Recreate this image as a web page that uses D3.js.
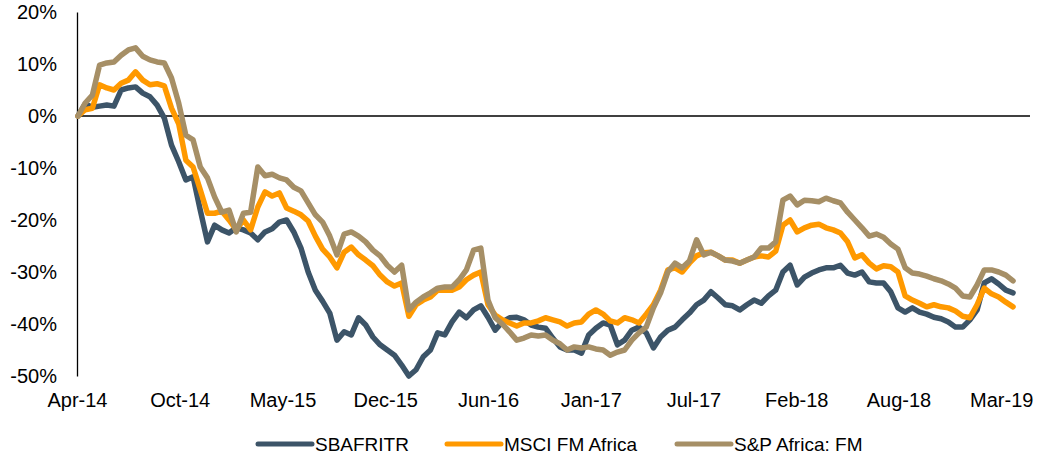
<!DOCTYPE html>
<html>
<head>
    <meta charset="UTF-8">
    <title></title>
    <style>
        body { margin: 0; background: #fff; font-family: 'Liberation Sans', Arial, Helvetica, sans-serif; }
        .axis text { font-size: 20px; fill: #000; }
        .legend text { font-size: 19px; fill: #000; }
        .series { fill: none; stroke-width: 5.5; stroke-linejoin: round; stroke-linecap: round; }
    </style>
</head>
<body>
    <script src="https://d3js.org/d3.v7.min.js"></script>
    <script>
        /// data (% change since start, one value every two weeks from 14 Apr 2014)
        var startDate = new Date(2014, 3, 14);
        var endDate = new Date(2019, 4, 11);

        var sbafritr = [0, 2.3, 1.7, 1.9, 2.1, 1.9, 5.0, 5.4, 5.6, 4.4, 3.7, 2.1, -0.4, -5.6, -8.8, -12.3, -11.7, -18.1, -24.2, -21.0,
            -21.9, -22.5, -21.5, -21.9, -22.5, -23.8, -22.3, -21.7, -20.4, -20.0, -22.3, -25.4, -30.0, -33.5, -35.6, -37.9, -43.1, -41.5, -42.1, -38.8,
            -40.2, -42.5, -44.0, -45.0, -46.0, -47.9, -50.0, -48.8, -46.3, -45.0, -41.7, -42.1, -39.6, -37.7, -38.8, -37.3, -36.5, -38.7, -41.2, -39.6,
            -38.8, -38.7, -39.2, -40.2, -40.6, -40.8, -42.7, -44.4, -45.0, -45.0, -45.6, -42.1, -40.8, -39.8, -40.2, -44.0, -43.1, -41.2, -40.6, -41.7,
            -44.6, -42.5, -41.2, -40.6, -39.2, -37.9, -36.3, -35.4, -33.8, -35.0, -36.3, -36.5, -37.3, -36.3, -35.4, -36.0, -34.6, -33.5, -30.0, -28.7,
            -32.5, -31.0, -30.2, -29.6, -29.2, -29.2, -28.7, -30.2, -30.6, -30.0, -31.9, -32.1, -32.1, -33.8, -36.9, -37.7, -36.9, -37.7, -38.1, -38.7,
            -39.0, -39.6, -40.6, -40.6, -39.2, -37.3, -32.1, -31.3, -32.3, -33.5, -34.0];

        var msciFmAfrica = [0, 1.2, 1.5, 6.0, 5.4, 5.0, 6.3, 6.9, 8.5, 6.9, 6.0, 6.2, 5.8, 1.5, -1.5, -8.5, -9.8, -14.2, -18.7, -18.7,
            -18.3, -20.0, -21.9, -20.0, -21.9, -17.5, -14.6, -15.4, -14.8, -17.7, -18.3, -19.0, -20.2, -23.1, -25.6, -27.1, -29.2, -26.2, -25.2, -26.7,
            -27.7, -28.8, -30.6, -31.9, -32.7, -32.1, -38.5, -36.3, -35.4, -34.8, -33.5, -33.5, -33.5, -32.9, -31.5, -30.6, -30.0, -36.3, -38.3, -39.2,
            -39.8, -40.4, -39.8, -39.8, -39.4, -38.8, -39.2, -39.6, -40.4, -39.8, -39.6, -38.1, -37.3, -38.1, -39.4, -39.8, -38.8, -39.2, -39.8, -38.1,
            -36.3, -33.5, -29.6, -29.2, -30.0, -28.3, -26.9, -26.3, -26.2, -26.9, -27.7, -27.7, -28.3, -27.7, -27.1, -26.9, -27.1, -26.0, -21.0, -20.0,
            -22.3, -21.5, -21.0, -20.8, -21.5, -21.9, -22.5, -24.2, -27.3, -26.7, -28.3, -29.4, -28.8, -29.0, -30.0, -34.6, -35.4, -36.0, -36.7, -36.3,
            -36.7, -36.9, -37.5, -38.5, -38.8, -36.3, -33.1, -34.2, -34.8, -35.8, -36.7];

        var spAfricaFm = [0, 2.5, 4.0, 9.8, 10.2, 10.4, 11.7, 12.7, 13.1, 11.5, 10.8, 10.4, 10.2, 7.3, 2.5, -3.7, -4.6, -9.8, -11.9, -15.6,
            -18.5, -18.1, -22.3, -18.7, -18.5, -9.8, -11.5, -11.2, -11.9, -12.3, -13.7, -14.4, -16.7, -19.0, -20.4, -23.1, -26.7, -22.7, -22.3, -23.1,
            -24.2, -25.8, -26.9, -28.7, -30.0, -28.7, -37.3, -35.8, -34.8, -34.0, -33.1, -32.9, -32.9, -31.5, -29.6, -25.8, -25.4, -35.4, -38.8, -40.0,
            -41.5, -43.1, -42.7, -42.1, -42.3, -42.1, -43.1, -43.8, -45.0, -44.4, -44.6, -44.4, -44.8, -45.0, -46.0, -45.4, -45.0, -43.1, -41.7, -40.6,
            -36.9, -34.0, -30.0, -28.3, -29.2, -27.9, -23.8, -26.7, -26.2, -26.9, -27.7, -27.9, -28.3, -27.7, -27.1, -25.4, -25.4, -24.2, -16.2, -15.4,
            -17.1, -16.2, -16.3, -16.5, -15.8, -16.3, -16.7, -18.5, -20.0, -21.5, -23.1, -22.7, -23.3, -24.6, -25.6, -29.2, -30.2, -30.4, -30.8, -31.3,
            -31.7, -32.3, -33.1, -34.6, -34.8, -32.5, -29.6, -29.6, -30.0, -30.6, -31.7];

        var seriesNames = ["SBAFRITR", "MSCI FM Africa", "S&P Africa: FM"];
        var seriesColors = ["#3c5468", "#ff9900", "#a68f66"];

        var yTicks = [20, 10, 0, -10, -20, -30, -40, -50];
        var xTickDates = ["2014-04-12", "2014-10-29", "2015-05-17", "2015-12-03", "2016-06-20",
            "2017-01-06", "2017-07-25", "2018-02-10", "2018-08-28", "2019-03-16"];

        /// layout
        var width = 1037, height = 456;
        var plot = { left: 77, right: 1030, top: 12, bottom: 376 };

        var svg = d3.select("body").append("svg")
            .attr("width", width)
            .attr("height", height);

        var dates = sbafritr.map(function(d, i) { return d3.timeDay.offset(startDate, 14 * i); });
        var parseDate = d3.timeParse("%Y-%m-%d");

        var x = d3.scaleTime().domain([startDate, endDate]).range([plot.left + 1, plot.right]);
        var y = d3.scaleLinear().domain([-50, 20]).range([plot.bottom, plot.top]);

        // y axis labels + line
        var yAxis = d3.axisLeft(y)
            .tickValues(yTicks)
            .tickSize(0)
            .tickPadding(20)
            .tickFormat(function(d) { return d + "%"; });
        svg.append("g")
            .attr("class", "axis")
            .attr("transform", "translate(" + plot.left + ",0)")
            .call(yAxis)
            .call(function(g) { g.select(".domain").attr("stroke", "#000").attr("stroke-width", 1.3); })
            .selectAll("text").attr("font-family", null);

        // zero line
        svg.append("line")
            .attr("x1", plot.left).attr("x2", plot.right)
            .attr("y1", y(0)).attr("y2", y(0))
            .attr("stroke", "#000").attr("stroke-width", 1.3);

        // x labels
        var xAxis = d3.axisBottom(x)
            .tickValues(xTickDates.map(parseDate))
            .tickSize(0)
            .tickPadding(17)
            .tickFormat(d3.timeFormat("%b-%y"));
        svg.append("g")
            .attr("class", "axis")
            .attr("transform", "translate(0," + plot.bottom + ")")
            .call(xAxis)
            .call(function(g) { g.select(".domain").remove(); })
            .selectAll("text").attr("font-family", null);

        // lines
        var line = d3.line()
            .x(function(d, i) { return x(dates[i]); })
            .y(function(d) { return y(d); });

        [sbafritr, msciFmAfrica, spAfricaFm].forEach(function(s, k) {
            svg.append("path")
                .datum(s)
                .attr("class", "series")
                .attr("stroke", seriesColors[k])
                .attr("d", line);
        });

        // legend
        var legendX = [258, 447, 677];
        var legend = svg.append("g").attr("class", "legend");
        seriesNames.forEach(function(name, k) {
            legend.append("line")
                .attr("x1", legendX[k]).attr("x2", legendX[k] + 54)
                .attr("y1", 444).attr("y2", 444)
                .attr("stroke", seriesColors[k])
                .attr("stroke-width", 5)
                .attr("stroke-linecap", "round");
            legend.append("text")
                .attr("x", legendX[k] + 57)
                .attr("y", 451)
                .text(name);
        });
    </script>
</body>
</html>
